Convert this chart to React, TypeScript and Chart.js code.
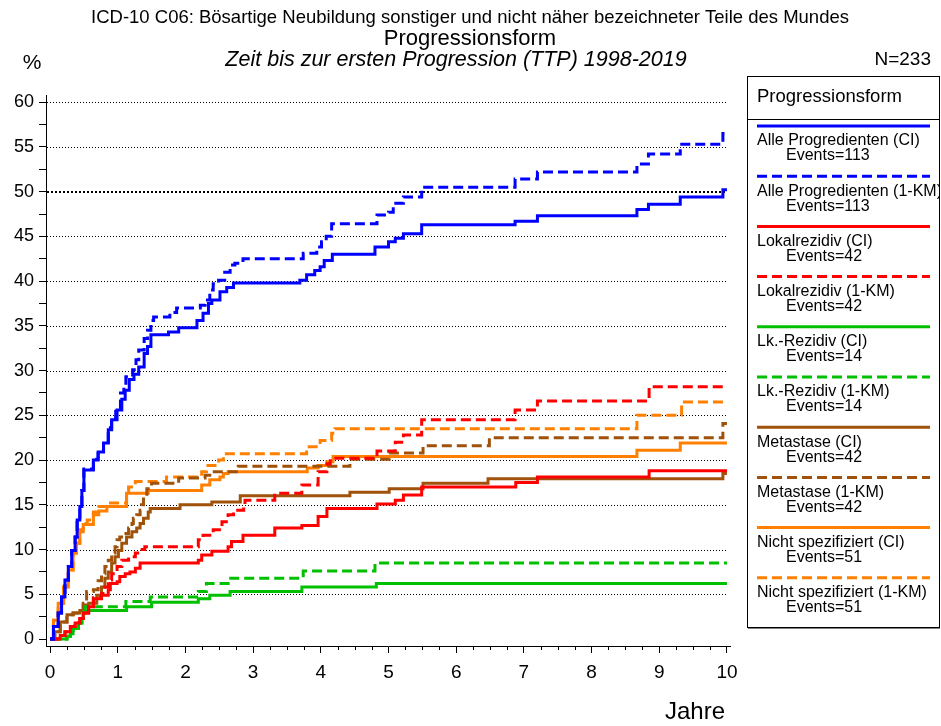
import React, { useEffect, useRef } from 'react';
import { Chart, registerables } from 'chart.js';

Chart.register(...registerables);

type Pt = [number, number];

// ---- data: [years, percent] step points (value after event) ----
const allCI: Pt[] = [[0,0],[0.05,1.4],[0.12,2.9],[0.17,4.7],[0.22,6.6],[0.27,8.1],[0.32,9.9],[0.37,11.4],[0.4,13.3],[0.44,14.8],[0.47,16.6],[0.5,18.9],[0.64,20],[0.71,20.9],[0.79,21.9],[0.86,23.4],[0.91,24.5],[0.99,25.6],[1.06,26.8],[1.11,27.8],[1.17,29],[1.24,29.6],[1.31,30.4],[1.39,31.9],[1.44,32.7],[1.49,34.0],[1.75,34.3],[1.9,34.8],[2.17,35.6],[2.26,36.4],[2.34,37.5],[2.39,37.9],[2.51,38.8],[2.61,39.3],[2.71,39.8],[3.69,40.1],[3.79,40.7],[3.91,41.2],[3.99,41.6],[4.05,42.3],[4.17,43.0],[4.80,43.8],[5.0,44.4],[5.10,44.8],[5.22,45.3],[5.49,46.3],[6.87,46.7],[7.20,47.3],[8.67,48.0],[8.84,48.6],[9.31,49.4],[9.94,50.2],[10,50.2]];
const allKM: Pt[] = [[0,0],[0.05,1.4],[0.12,2.9],[0.17,4.7],[0.22,6.6],[0.27,8.1],[0.32,9.9],[0.37,11.4],[0.4,13.3],[0.44,14.8],[0.47,16.6],[0.5,19.0],[0.64,20.1],[0.71,21.0],[0.79,22.0],[0.86,23.6],[0.91,24.7],[0.97,25.8],[1.04,27.5],[1.09,28.2],[1.12,29.3],[1.22,30.1],[1.27,31.2],[1.31,32.3],[1.39,33.6],[1.44,34.5],[1.49,35.6],[1.53,36.0],[1.77,36.5],[1.87,37.0],[2.22,37.3],[2.29,37.9],[2.36,39.0],[2.41,39.7],[2.49,40.1],[2.58,41.0],[2.66,41.8],[2.73,42.0],[2.85,42.5],[3.74,43.1],[3.94,43.8],[4.01,44.4],[4.08,45.0],[4.16,46.4],[4.83,47.4],[5.0,47.7],[5.07,48.7],[5.22,49.4],[5.49,50.5],[6.87,51.4],[7.20,52.2],[8.67,53.1],[8.84,54.2],[9.31,55.3],[9.94,56.5],[10,56.5]];
const lokCI: Pt[] = [[0,0],[0.12,0],[0.15,0.4],[0.22,0.8],[0.30,1.4],[0.37,1.8],[0.44,2.3],[0.49,2.9],[0.57,3.6],[0.64,4.5],[0.76,4.9],[0.86,5.5],[0.89,6.2],[0.99,6.4],[1.03,7.0],[1.11,7.3],[1.18,7.5],[1.26,7.9],[1.33,8.5],[2.19,8.8],[2.24,9.4],[2.39,9.8],[2.63,10.3],[2.68,10.9],[2.85,11.6],[3.32,12.4],[3.72,12.7],[3.96,13.7],[4.09,14.6],[4.83,15.1],[5.10,15.5],[5.22,16.1],[5.49,17.0],[6.88,17.5],[7.20,18.1],[8.85,18.8],[10,18.8]];
const lokKM: Pt[] = [[0,0],[0.12,0],[0.15,0.4],[0.22,0.8],[0.30,1.4],[0.37,1.8],[0.44,2.3],[0.49,2.9],[0.57,3.7],[0.64,4.6],[0.76,5.1],[0.81,5.8],[0.86,6.6],[0.91,7.3],[0.99,8.1],[1.06,8.8],[1.16,9.2],[1.26,9.6],[1.33,10.0],[1.40,10.3],[2.19,11.1],[2.26,11.6],[2.41,12.2],[2.54,13.1],[2.63,13.9],[2.71,14.4],[2.86,15.0],[2.88,15.5],[3.32,16.3],[3.72,17.2],[3.96,18.7],[4.09,19.6],[4.14,20.2],[4.83,21.0],[5.10,22.0],[5.22,22.8],[5.49,24.5],[6.87,25.6],[7.20,26.6],[8.85,28.2],[10,28.2]];
const lkCI: Pt[] = [[0,0],[0.22,0],[0.25,0.3],[0.30,0.6],[0.34,1.2],[0.42,1.8],[0.47,2.3],[0.49,2.9],[0.52,3.2],[1.13,3.6],[1.50,4.1],[2.19,4.5],[2.36,4.9],[2.66,5.3],[3.72,5.8],[4.82,6.2],[10,6.2]];
const lkKM: Pt[] = [[0,0],[0.22,0],[0.25,0.3],[0.30,0.6],[0.34,1.2],[0.42,1.8],[0.47,2.3],[0.49,3.0],[0.52,3.6],[1.12,4.2],[1.48,4.7],[2.19,5.3],[2.31,6.2],[2.63,6.8],[3.74,7.6],[4.80,8.5],[10,8.5]];
const metCI: Pt[] = [[0,0],[0.07,0.8],[0.15,1.9],[0.25,2.7],[0.34,2.9],[0.44,3.2],[0.49,3.8],[0.57,4.0],[0.69,4.9],[0.76,5.8],[0.81,6.8],[0.86,7.5],[0.91,8.5],[0.96,9.2],[1.01,9.9],[1.06,10.7],[1.13,11.4],[1.21,12.0],[1.28,12.4],[1.33,12.9],[1.38,13.5],[1.45,14.2],[1.48,14.6],[1.92,15.0],[2.39,15.3],[2.81,16.0],[4.43,16.4],[5.01,16.8],[5.51,17.4],[6.47,17.9],[9.94,18.5],[10,18.5]];
const metKM: Pt[] = [[0,0],[0.07,0.8],[0.15,1.9],[0.25,2.7],[0.34,2.9],[0.44,3.2],[0.49,4.0],[0.54,5.3],[0.64,5.5],[0.71,6.5],[0.76,7.3],[0.81,8.1],[0.86,8.8],[0.91,9.6],[0.96,10.3],[0.99,11.1],[1.03,11.4],[1.08,11.8],[1.16,12.4],[1.21,12.9],[1.23,13.5],[1.28,13.9],[1.33,14.4],[1.35,15.0],[1.38,16.0],[1.43,16.8],[1.5,17.4],[1.90,18.0],[2.29,18.3],[2.36,18.7],[2.78,19.3],[4.43,20.1],[5.01,20.8],[5.51,21.6],[6.49,22.5],[9.94,24.1],[10,24.1]];
const nsCI: Pt[] = [[0,0],[0.05,2.1],[0.12,4.0],[0.2,5.8],[0.27,7.7],[0.34,9.6],[0.39,10.7],[0.44,12.0],[0.49,12.8],[0.64,13.9],[0.72,14.3],[0.84,14.8],[1.13,16.3],[1.45,16.6],[2.24,17.2],[2.36,17.8],[2.51,18.1],[2.56,18.5],[2.63,18.7],[3.80,19.1],[3.96,19.4],[4.09,19.8],[4.18,20.4],[8.67,21.1],[9.31,21.9],[10,21.9]];
const nsKM: Pt[] = [[0,0],[0.05,2.1],[0.12,4.0],[0.2,5.8],[0.27,7.7],[0.34,9.6],[0.39,10.7],[0.44,12.2],[0.49,12.9],[0.55,13.3],[0.64,14.2],[0.72,14.8],[0.84,15.2],[1.13,16.5],[1.16,17.0],[1.26,17.6],[1.72,18.1],[2.24,18.7],[2.31,19.4],[2.49,20.0],[2.56,20.7],[3.79,21.5],[3.99,22.2],[4.16,23.0],[4.21,23.5],[8.67,25.0],[9.33,26.5],[10,26.5]];

const seriesData: Pt[][] = [allCI, allKM, lokCI, lokKM, lkCI, lkKM, metCI, metKM, nsCI, nsKM];
const seriesLabels = ['Alle Progredienten (CI)', 'Alle Progredienten (1-KM)', 'Lokalrezidiv (CI)', 'Lokalrezidiv (1-KM)', 'Lk.-Rezidiv (CI)', 'Lk.-Rezidiv (1-KM)', 'Metastase (CI)', 'Metastase (1-KM)', 'Nicht spezifiziert (CI)', 'Nicht spezifiziert (1-KM)'];
const eventCounts = [113, 113, 42, 42, 14, 14, 42, 42, 51, 51];
const seriesColors = ['#0000ff', '#0000ff', '#ff0000', '#ff0000', '#00c000', '#00c000', '#a0520a', '#a0520a', '#ff8000', '#ff8000'];
const seriesDashed = [false, true, false, true, false, true, false, true, false, true];

const xTickLabels = ['0', '1', '2', '3', '4', '5', '6', '7', '8', '9', '10'];
const yTickLabels = ['0', '5', '10', '15', '20', '25', '30', '35', '40', '45', '50', '55', '60'];

const titleLine1 = 'ICD-10 C06: Bösartige Neubildung sonstiger und nicht näher bezeichneter Teile des Mundes';
const titleLine2 = 'Progressionsform';
const titleLine3 = 'Zeit bis zur ersten Progression (TTP) 1998-2019';
const nLabel = 'N=233';
const yUnit = '%';
const xTitle = 'Jahre';
const legendTitle = 'Progressionsform';

const FONT = "'Liberation Sans', Arial, Helvetica, sans-serif";
const DASH = [10, 5];

const decorPlugin = {
  id: 'decor',
  beforeDatasetsDraw(chart: any) {
    const { ctx, chartArea } = chart;
    const x = chart.scales.x;
    const y = chart.scales.y;
    ctx.save();
    ctx.strokeStyle = '#000';
    for (const lab of yTickLabels) {
      const v = Number(lab);
      if (v === 0) continue;
      const bold = v === 50;
      const py = bold ? Math.round(y.getPixelForValue(v)) : Math.round(y.getPixelForValue(v)) + 0.5;
      ctx.lineWidth = bold ? 2 : 1;
      ctx.setLineDash(bold ? [2, 2] : [1, 2]);
      ctx.beginPath();
      ctx.moveTo(chartArea.left + 1, py);
      ctx.lineTo(x.getPixelForValue(10), py);
      ctx.stroke();
    }
    ctx.restore();
  },
  afterDraw(chart: any) {
    const { ctx, chartArea } = chart;
    const x = chart.scales.x;
    ctx.save();
    // minor x ticks (shorter than the integer ticks)
    ctx.strokeStyle = '#000';
    ctx.lineWidth = 1;
    for (const t of x.ticks) {
      if (Number.isInteger(t.value)) continue;
      const px = Math.round(x.getPixelForValue(t.value)) + 0.5;
      ctx.beginPath();
      ctx.moveTo(px, chartArea.bottom);
      ctx.lineTo(px, chartArea.bottom + 4);
      ctx.stroke();
    }
    ctx.fillStyle = '#000';
    ctx.textBaseline = 'middle';
    // titles
    ctx.textAlign = 'center';
    ctx.font = `18.5px ${FONT}`;
    ctx.fillText(titleLine1, 470, 18);
    ctx.font = `22px ${FONT}`;
    ctx.fillText(titleLine2, 470, 39);
    ctx.font = `italic 21.5px ${FONT}`;
    ctx.fillText(titleLine3, 456, 60);
    ctx.font = `21px ${FONT}`;
    ctx.fillText(yUnit, 32, 63);
    ctx.textAlign = 'right';
    ctx.font = `19px ${FONT}`;
    ctx.fillText(nLabel, 931, 60);
    ctx.font = `24px ${FONT}`;
    ctx.fillText(xTitle, 725, 712);

    // legend box
    const L = 747, T = 76, R = 939, B = 627;
    ctx.lineWidth = 1;
    ctx.strokeStyle = '#000';
    ctx.setLineDash([]);
    ctx.strokeRect(L + 0.5, T + 0.5, R - L, B - T);
    ctx.fillRect(L + 1, B, R - L, 1.5);
    ctx.beginPath();
    ctx.moveTo(L, 119.5);
    ctx.lineTo(R, 119.5);
    ctx.stroke();
    ctx.beginPath();
    ctx.rect(L + 1, T + 1, R - L - 1, B - T - 1);
    ctx.clip();
    ctx.textAlign = 'left';
    ctx.font = `18.5px ${FONT}`;
    ctx.fillText(legendTitle, 757, 97);
    chart.data.datasets.forEach((ds: any, i: number) => {
      const ly = 126 + i * 50.2;
      ctx.strokeStyle = ds.borderColor;
      ctx.lineWidth = 3;
      ctx.setLineDash(ds.borderDash || []);
      ctx.beginPath();
      ctx.moveTo(757, ly);
      ctx.lineTo(930, ly);
      ctx.stroke();
      ctx.setLineDash([]);
      ctx.fillStyle = '#000';
      ctx.font = `16px ${FONT}`;
      ctx.fillText(ds.label, 757, ly + 15);
      ctx.fillText('Events=' + ds.events, 786, ly + 30);
    });
    ctx.restore();
  },
};

export default function App() {
  const ref = useRef<HTMLCanvasElement | null>(null);
  useEffect(() => {
    if (!ref.current) return;
    const datasets = seriesData.map((pts, i) => ({
      label: seriesLabels[i],
      events: eventCounts[i],
      data: pts.map(([x, y]) => ({ x, y })),
      borderColor: seriesColors[i],
      backgroundColor: seriesColors[i],
      borderWidth: 3,
      borderDash: seriesDashed[i] ? DASH : [],
      borderCapStyle: 'butt',
      stepped: 'before',
      pointRadius: 0,
      fill: false,
    }));
    const xTicks: number[] = [];
    for (let i = 0; i < xTickLabels.length; i++) {
      const v = Number(xTickLabels[i]);
      xTicks.push(v);
      if (i < xTickLabels.length - 1) xTicks.push(v + 0.25, v + 0.5, v + 0.75);
    }
    const yTicks: number[] = [];
    for (let i = 0; i < yTickLabels.length; i++) {
      const v = Number(yTickLabels[i]);
      yTicks.push(v);
      if (i < yTickLabels.length - 1) yTicks.push(v + 2.5);
    }
    const chart = new Chart(ref.current, {
      type: 'line',
      data: { datasets: datasets as any },
      options: {
        responsive: false,
        animation: false,
        events: [],
        layout: { padding: { top: 95, right: 211, left: 0, bottom: 0 } },
        plugins: { legend: { display: false }, title: { display: false }, tooltip: { enabled: false } },
        scales: {
          x: {
            type: 'linear',
            min: -0.06,
            max: 10.045,
            afterBuildTicks: (axis: any) => { axis.ticks = xTicks.map((value) => ({ value })); },
            afterFit: (axis: any) => { axis.height = 80; },
            ticks: {
              autoSkip: false,
              maxRotation: 0,
              padding: 8,
              color: '#000',
              font: { family: FONT, size: 19 },
              callback: (v: any) => (Number.isInteger(Number(v)) ? String(v) : ''),
            },
            grid: {
              drawOnChartArea: false,
              drawTicks: true,
              tickLength: 7,
              tickColor: (c: any) => (c.tick && Number.isInteger(c.tick.value) ? '#000' : 'rgba(0,0,0,0)'),
              tickWidth: 1,
            },
            border: { display: true, color: '#000', width: 1 },
          },
          y: {
            type: 'linear',
            min: -0.78,
            max: 60.8,
            afterBuildTicks: (axis: any) => { axis.ticks = yTicks.map((value) => ({ value })); },
            afterFit: (axis: any) => { axis.width = 46; },
            ticks: {
              autoSkip: false,
              padding: 5,
              color: '#000',
              font: { family: FONT, size: 18 },
              callback: (v: any) => (Number(v) % 5 === 0 ? String(v) : ''),
            },
            grid: { drawOnChartArea: false, drawTicks: true, tickLength: 7, tickColor: '#000', tickWidth: 1 },
            border: { display: true, color: '#000', width: 1 },
          },
        },
      },
      plugins: [decorPlugin],
    } as any);
    return () => chart.destroy();
  }, []);
  return (
    <div style={{ position: 'absolute', left: 0, top: 0, width: 941, height: 726, background: '#fff' }}>
      <canvas ref={ref} width={941} height={726} style={{ display: 'block', width: 941, height: 726 }} />
    </div>
  );
}
